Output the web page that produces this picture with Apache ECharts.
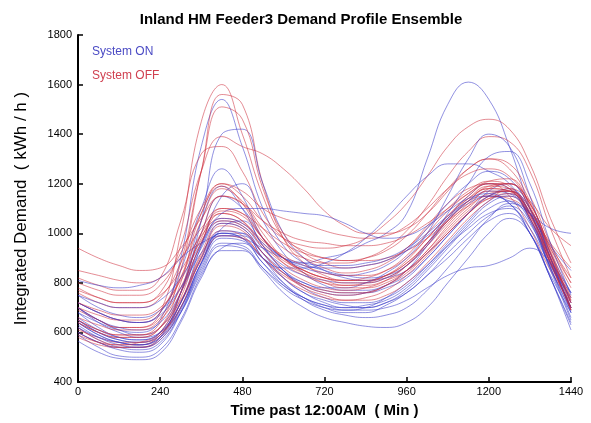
<!DOCTYPE html>
<html><head><meta charset="utf-8">
<script src="https://cdn.jsdelivr.net/npm/echarts@6/dist/echarts.min.js"></script>
<style>html,body{margin:0;padding:0;background:#fff}#c{width:591px;height:423px}</style>
</head><body><div id="c"></div>
<script>
const titleText = "Inland HM Feeder3 Demand Profile Ensemble";
const xName = "Time past 12:00AM  ( Min )";
const yName = "Integrated Demand  ( kWh / h )";
const legendOn = "System ON";
const legendOff = "System OFF";
const times = [0,60,120,180,240,300,360,420,480,540,600,660,720,780,840,900,960,1020,1080,1140,1200,1260,1320,1380,1440];

const systemOn = [
[700,650,610,590,620,760,1000,1150,1100,980,900,880,900,920,960,1000,1080,1300,1520,1610,1540,1350,1100,880,760],
[680,640,610,600,650,900,1350,1540,1350,1100,950,880,850,830,820,830,870,950,1050,1130,1150,1120,1000,830,680],
[650,600,570,560,600,760,1050,1400,1420,1200,1000,900,850,820,810,820,850,920,1000,1080,1150,1180,1080,880,700],
[720,680,650,640,680,850,1100,1260,1150,980,900,860,840,830,840,870,930,1020,1120,1200,1250,1220,1100,920,760],
[600,560,540,540,580,760,1050,1190,1100,950,850,790,760,750,760,790,850,950,1060,1150,1200,1180,1050,860,690],
[640,590,560,550,590,720,950,1150,1200,1050,920,840,790,770,770,790,830,900,990,1080,1170,1200,1100,900,700],
[620,570,540,530,560,680,850,960,950,860,780,730,700,690,700,740,800,870,950,1020,1080,1100,1000,820,640],
[590,540,505,500,530,650,830,940,960,880,800,740,700,680,680,710,760,830,920,1000,1070,1110,1040,850,650],
[650,600,570,560,590,700,880,1000,1000,900,820,760,720,700,700,720,770,850,940,1030,1100,1130,1050,860,680],
[700,640,600,580,600,700,880,1020,1050,950,850,780,740,720,720,740,790,870,960,1050,1130,1160,1080,880,700],
[565,520,495,490,515,640,820,930,930,850,760,700,660,640,625,620,640,700,800,900,1000,1060,1000,820,610],
[810,790,780,790,820,900,960,990,980,940,900,880,870,870,880,900,940,1000,1070,1130,1170,1160,1080,950,850],
[750,700,670,660,690,780,920,1000,980,900,840,800,770,760,760,780,820,900,990,1080,1150,1170,1100,920,720],
[680,620,580,570,600,720,900,1040,1020,920,820,760,730,710,700,720,760,830,900,980,1050,1080,1000,820,630],
[660,610,580,570,600,720,900,1000,980,900,860,860,880,920,980,1060,1150,1230,1280,1280,1250,1200,1080,900,720],
[640,590,560,550,580,700,880,1010,1000,920,850,800,780,780,800,840,900,1000,1150,1300,1400,1350,1150,900,700],
[700,650,620,610,640,760,940,1050,1030,940,870,830,810,800,800,820,870,960,1080,1200,1310,1330,1200,960,750],
[620,580,560,550,580,680,840,950,940,860,790,740,710,690,690,700,730,780,830,860,870,900,940,880,760],
[720,680,650,640,670,780,950,1060,1040,960,900,870,860,860,870,890,930,990,1060,1120,1150,1130,1080,1020,1000],
[600,560,530,520,550,680,870,990,990,900,800,730,690,670,660,670,700,770,860,960,1060,1120,1080,900,680],
[630,580,550,540,570,690,860,980,970,880,790,740,710,700,710,730,780,860,950,1040,1120,1150,1060,860,660],
[750,720,700,700,730,820,960,1080,1100,1100,1090,1080,1070,1040,1000,980,990,1030,1090,1140,1160,1120,1020,870,740]
];

const systemOff = [
[700,650,620,620,680,1000,1450,1600,1400,1150,980,900,860,840,850,880,940,1030,1120,1180,1200,1150,1020,850,720],
[650,610,590,590,640,850,1250,1560,1520,1200,980,880,830,810,810,830,880,960,1050,1130,1180,1170,1060,880,700],
[720,680,650,640,680,880,1250,1510,1460,1180,1000,920,880,860,870,890,940,1020,1100,1170,1210,1190,1080,900,730],
[780,740,720,720,760,950,1250,1390,1350,1320,1260,1180,1090,1030,1000,1000,1020,1080,1170,1260,1300,1260,1130,940,780],
[820,790,770,770,820,1050,1320,1350,1250,1080,980,930,900,890,900,930,990,1080,1180,1260,1300,1280,1150,960,800],
[640,600,580,580,620,800,1080,1190,1120,980,880,830,800,790,800,830,890,980,1070,1150,1200,1180,1060,870,700],
[760,720,700,700,740,880,1080,1200,1150,1050,980,950,940,950,980,1040,1120,1230,1350,1430,1460,1420,1280,1060,880],
[690,650,620,620,660,820,1050,1180,1130,1020,940,900,880,880,900,940,1010,1110,1230,1330,1390,1370,1250,1020,820],
[940,900,870,850,860,940,1060,1150,1120,1050,1000,970,960,950,950,960,990,1040,1100,1160,1200,1200,1130,1020,950],
[850,830,810,800,820,900,1020,1100,1080,1020,960,920,900,890,890,900,930,980,1050,1110,1150,1140,1080,960,860],
[620,570,550,550,590,740,960,1080,1050,940,860,810,780,770,780,810,870,960,1060,1140,1190,1180,1070,880,700],
[600,560,540,540,580,720,920,1040,1020,920,840,790,760,750,760,790,850,930,1030,1110,1170,1170,1060,880,690],
[610,580,560,560,590,720,910,1010,990,900,820,770,740,730,740,770,830,910,1000,1080,1140,1160,1080,890,690],
[770,740,720,720,750,850,990,1060,1040,970,910,870,840,830,830,850,900,980,1070,1140,1180,1170,1090,940,800],
[650,610,590,590,620,730,890,990,980,900,830,790,770,760,760,790,840,920,1010,1090,1150,1170,1100,920,720],
[580,550,540,540,570,700,900,1030,1010,920,840,780,750,730,730,750,800,880,970,1060,1130,1180,1120,920,700],
[700,670,650,650,690,820,1000,1080,1050,960,890,850,820,810,810,830,880,960,1050,1130,1190,1200,1100,900,720],
[800,770,750,750,790,920,1100,1200,1170,1100,1060,1040,1010,990,980,990,1030,1100,1180,1240,1260,1230,1120,950,820],
[640,600,580,580,620,760,960,1100,1080,980,900,850,820,810,820,850,910,1000,1090,1160,1210,1220,1110,910,730],
[720,690,670,670,700,810,970,1050,1030,950,880,840,810,790,790,810,850,920,1000,1080,1140,1150,1070,900,740],
[590,560,550,560,600,760,1000,1150,1120,1000,900,840,800,780,780,800,850,930,1020,1100,1160,1170,1080,890,690],
[660,630,610,610,650,780,980,1090,1070,980,900,850,820,800,800,820,870,950,1040,1120,1180,1200,1120,930,740]
];

const blueCol = 'rgba(55,55,200,0.55)';
const redCol = 'rgba(205,45,60,0.55)';
const series = [];
function addSeries(vals, col) {
  series.push({
    type: 'line', showSymbol: false, smooth: 0.45, silent: true,
    data: times.map((t, i) => [t, vals[i]]),
    lineStyle: { width: 1, color: col }, itemStyle: { color: col }
  });
}
for (let i = 0; i < Math.max(systemOn.length, systemOff.length); i++) {
  if (systemOn[i]) addSeries(systemOn[i], blueCol);
  if (systemOff[i]) addSeries(systemOff[i], redCol);
}

const FONT = 'Liberation Sans, Arial, sans-serif';
const axisCommon = {
  axisLine: { show: true, lineStyle: { color: '#000', width: 2 } },
  axisTick: { show: true, inside: true, length: 5, lineStyle: { color: '#000', width: 1.5 } },
  splitLine: { show: false }
};
const labelStyle = (m) => ({ color: '#000', fontSize: 11, fontFamily: FONT, margin: m, formatter: v => String(v) });

const chart = echarts.init(document.getElementById('c'), null, { renderer: 'canvas' });
chart.setOption({
  animation: false,
  backgroundColor: '#fff',
  title: { text: titleText, left: 296, top: 7, textAlign: 'center',
    textStyle: { fontSize: 15, fontWeight: 'bold', color: '#000', fontFamily: FONT } },
  grid: { left: 78, right: 20, top: 35, bottom: 34 },
  xAxis: Object.assign({ type: 'value', min: 0, max: 1440, interval: 240,
    name: xName, nameLocation: 'middle', nameGap: 21,
    nameTextStyle: { fontSize: 15, fontWeight: 'bold', color: '#000', fontFamily: FONT },
    axisLabel: labelStyle(4) }, axisCommon),
  yAxis: Object.assign({ type: 'value', min: 400, max: 1800, interval: 200,
    name: yName, nameLocation: 'middle', nameGap: 48,
    nameTextStyle: { fontSize: 17, color: '#000', fontFamily: FONT },
    axisLabel: labelStyle(6) }, axisCommon),
  graphic: [
    { type: 'text', left: 92, top: 46, style: { text: legendOn, fill: '#4a4ac4', fontSize: 12, fontFamily: FONT } },
    { type: 'text', left: 92, top: 70, style: { text: legendOff, fill: '#d04050', fontSize: 12, fontFamily: FONT } }
  ],
  series: series
});
</script>
</body></html>
